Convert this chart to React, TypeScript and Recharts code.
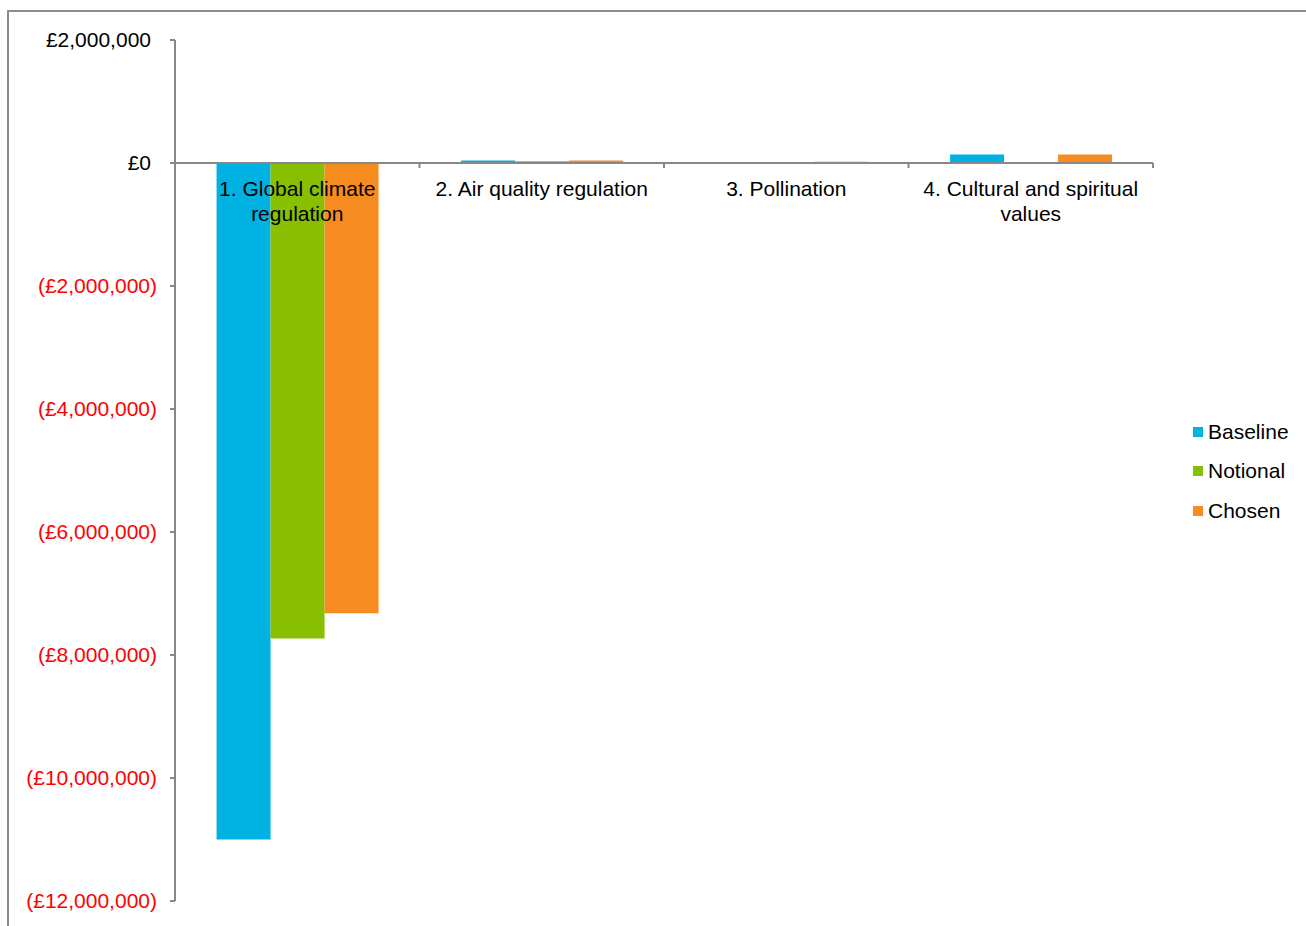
import { Bar, BarChart, ReferenceLine, YAxis, XAxis } from "recharts";

const categories = [
  "1. Global climate regulation",
  "2. Air quality regulation",
  "3. Pollination",
  "4. Cultural and spiritual values",
];
const baseline = [-11000000, 40000, 0, 140000];
const notional = [-7730000, 30000, 0, 0];
const chosen = [-7320000, 40000, 22000, 140000];
const yTicks = [2000000, 0, -2000000, -4000000, -6000000, -8000000, -10000000, -12000000];

const seriesList = [
  { key: "Baseline", color: "#00b2e2" },
  { key: "Notional", color: "#88bf00" },
  { key: "Chosen", color: "#f68b1f" },
];

const data = categories.map((name, i) => ({
  name,
  Baseline: baseline[i],
  Notional: notional[i],
  Chosen: chosen[i],
}));

const FONT = '"Liberation Sans", Arial, sans-serif';
const AXIS = "#888888";

const money = (v: number) => {
  const s = "£" + Math.abs(v).toLocaleString("en-GB");
  return v < 0 ? `(${s})` : s;
};

// word-wrap a label to a max pixel width
let ctx: CanvasRenderingContext2D | null = null;
function wrap(label: string, maxW: number): string[] {
  if (!ctx) {
    ctx = document.createElement("canvas").getContext("2d");
    if (ctx) ctx.font = `21px ${FONT}`;
  }
  if (!ctx) return [label];
  const lines: string[] = [];
  let cur = "";
  for (const w of label.split(" ")) {
    const test = cur ? cur + " " + w : w;
    if (cur && ctx.measureText(test).width > maxW) {
      lines.push(cur);
      cur = w;
    } else cur = test;
  }
  if (cur) lines.push(cur);
  return lines;
}

function YTick(props: any) {
  const { x, y, payload } = props;
  const v = payload.value as number;
  return (
    <text
      x={x}
      y={y}
      dx={v < 0 ? 0 : -6}
      dy={7}
      textAnchor="end"
      fontSize={21}
      fontFamily={FONT}
      fill={v < 0 ? "#ff0000" : "#000000"}
    >
      {money(v)}
    </text>
  );
}

// category labels + boundary ticks drawn along the zero line
function ZeroAxis(props: any) {
  const vb = props.viewBox;
  if (!vb) return null;
  const band = vb.width / categories.length;
  return (
    <g>
      {categories.map((_, i) => (
        <line key={"t" + i} x1={vb.x + band * (i + 1)} x2={vb.x + band * (i + 1)} y1={vb.y} y2={vb.y + 5} stroke={AXIS} strokeWidth={2} />
      ))}
      {categories.map((c, i) => (
        <text key={c} x={vb.x + band * (i + 0.5)} y={vb.y + 33} textAnchor="middle" fontSize={21} fontFamily={FONT} fill="#000">
          {wrap(c, 232).map((ln, j) => (
            <tspan key={j} x={vb.x + band * (i + 0.5)} dy={j === 0 ? 0 : 25}>
              {ln}
            </tspan>
          ))}
        </text>
      ))}
    </g>
  );
}

export default function App() {
  return (
    <div style={{ position: "absolute", left: 0, top: 0, width: 1306, height: 926, background: "#fff", overflow: "hidden" }}>
      <div
        style={{
          position: "absolute",
          left: 7,
          top: 10,
          width: 1400,
          height: 1000,
          borderTop: "2px solid #8c8c8c",
          borderLeft: "2px solid #8c8c8c",
        }}
      />
      <div style={{ position: "absolute", left: 0, top: 0 }}>
        <BarChart
          width={1306}
          height={926}
          data={data}
          margin={{ top: 40, right: 153, bottom: 25, left: 0 }}
          barCategoryGap="17%"
          barGap={0}
        >
          <XAxis dataKey="name" hide />
          <YAxis
            width={175}
            domain={[-12000000, 2000000]}
            ticks={yTicks}
            interval={0}
            tick={<YTick />}
            tickSize={5}
            tickMargin={13}
            axisLine={{ stroke: AXIS, strokeWidth: 2 }}
            tickLine={{ stroke: AXIS, strokeWidth: 2 }}
          />
          <ReferenceLine y={0} stroke={AXIS} strokeWidth={2} />
          {seriesList.map((s) => (
            <Bar key={s.key} dataKey={s.key} fill={s.color} isAnimationActive={false} />
          ))}
          <ReferenceLine y={0} stroke="none" label={<ZeroAxis />} />
        </BarChart>
      </div>
      <div style={{ position: "absolute", left: 1193, top: 412, fontFamily: FONT, fontSize: 21, color: "#000" }}>
        {seriesList.map((s) => (
          <div key={s.key} style={{ height: 39.5, display: "flex", alignItems: "center" }}>
            <span style={{ width: 10, height: 10, background: s.color, marginRight: 5, display: "inline-block" }} />
            {s.key}
          </div>
        ))}
      </div>
    </div>
  );
}
